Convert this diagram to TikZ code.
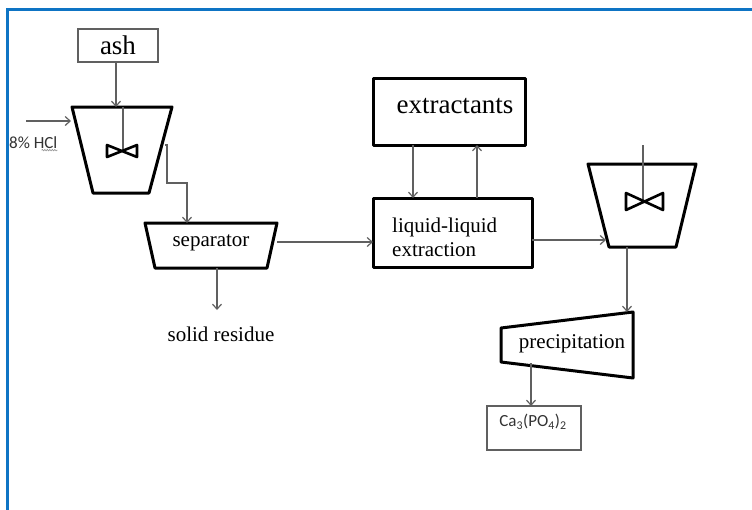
\documentclass[tikz,border=0pt]{standalone}
\usepackage{fontspec}
\setmainfont{Liberation Serif}
\newfontfamily\carlitofont{Carlito}
\usetikzlibrary{arrows.meta,decorations.pathmorphing}
\definecolor{frameblue}{HTML}{0E74C4}
\definecolor{linegray}{HTML}{606060}
\tikzset{
  flow/.style={draw=linegray, line width=1.2pt, -{Straight Barb[length=5pt,width=9pt,line width=1.2pt]}},
  plain/.style={draw=linegray, line width=1.2pt},
  thick unit/.style={draw=black, line width=3pt, line join=round},
  thin box/.style={draw=linegray, line width=1.3pt},
  big/.style={font=\fontsize{27}{30}\selectfont},
  mid/.style={font=\fontsize{21}{24}\selectfont},
  small sans/.style={font=\carlitofont\fontsize{17}{19}\selectfont, text=black!80},
}
\begin{document}
\begin{tikzpicture}[x=1pt,y=-1pt]
\useasboundingbox (0,0) rectangle (752,509);
% blue frame
\draw[frameblue, line width=3pt] (7,512) -- (7,9.5) -- (756,9.5);

% ash box
\draw[thin box] (78,29) rectangle (158,62);
\node[big, inner sep=0] (ash) at (118,45.5) {ash};
\coordinate (ashB) at (116,62);

% tank 1
\draw[thick unit] (72,107) -- (172,107) -- (149,193) -- (93,193) -- cycle;
\coordinate (t1top) at (116,107);
\coordinate (t1in) at (71,121);
\coordinate (t1out) at (165,145);
\draw[plain] (123,107) -- (123,151);
\draw[black, line width=2.6pt, line join=round] (107,145) -- (137,157) -- (137,145) -- (107,157) -- cycle;
\draw[flow] (ashB) -- (t1top);
\coordinate (hclstart) at (26,121);
\draw[flow] (hclstart) -- (t1in);
\node[small sans, inner sep=0, anchor=west] (hcl) at (9,143) {8\% HCl};
\draw[linegray!70, line width=0.6pt, decorate, decoration={snake, amplitude=0.7pt, segment length=2.5pt}]
  ([xshift=-16pt,yshift=-1pt]hcl.south east) -- ([yshift=-1pt]hcl.south east);

% separator
\draw[thick unit] (145,223) -- (277,223) -- (267,268) -- (155,268) -- cycle;
\node[mid, inner sep=0] (sep) at (211,243) {separator};
\coordinate (sepT) at (187,223);
\coordinate (sepR) at (277,242);
\coordinate (sepB) at (217,268);
\draw[flow] (t1out) -- (167,145) -- (167,183) -- (187,183) -- (sepT);
\node[mid, inner sep=0] (res) at (221,334) {solid residue};
\draw[flow] (sepB) -- (217,310);

% extractants
\draw[thick unit] (373,78) rectangle (525,145);
\node[big, inner sep=0] (ext) at (455,106) {extractants};

% liquid-liquid extraction
\draw[thick unit] (373,198) rectangle (532,267);
\node[mid, inner sep=0, anchor=west, align=left] (lle) at (392,237) {liquid-liquid\\extraction};
\draw[flow] (sepR) -- (373,242);
\draw[flow] (413,145) -- (413,198);
\draw[flow] (477,198) -- (477,145);

% tank 2
\draw[thick unit] (588,164) -- (696,164) -- (676,247) -- (609,247) -- cycle;
\draw[plain] (643,145) -- (643,201);
\draw[black, line width=2.6pt, line join=round] (626,193) -- (663,210) -- (663,193) -- (626,210) -- cycle;
\draw[flow] (532,240) -- (606,240);
\coordinate (t2B) at (627,247);

% precipitation
\draw[thick unit] (501,328) -- (633,312) -- (633,378) -- (501,362) -- cycle;
\node[mid, inner sep=0] (prec) at (572,344) {precipitation};
\draw[flow] (t2B) -- (627,312);

% Ca3(PO4)2
\draw[thin box] (487,406) rectangle (581,450);
\node[small sans, inner sep=0] (ca) at (533,422) {Ca\textsubscript{3}(PO\textsubscript{4})\textsubscript{2}};
\draw[flow] (531,363) -- (531,406);
\end{tikzpicture}
\end{document}
